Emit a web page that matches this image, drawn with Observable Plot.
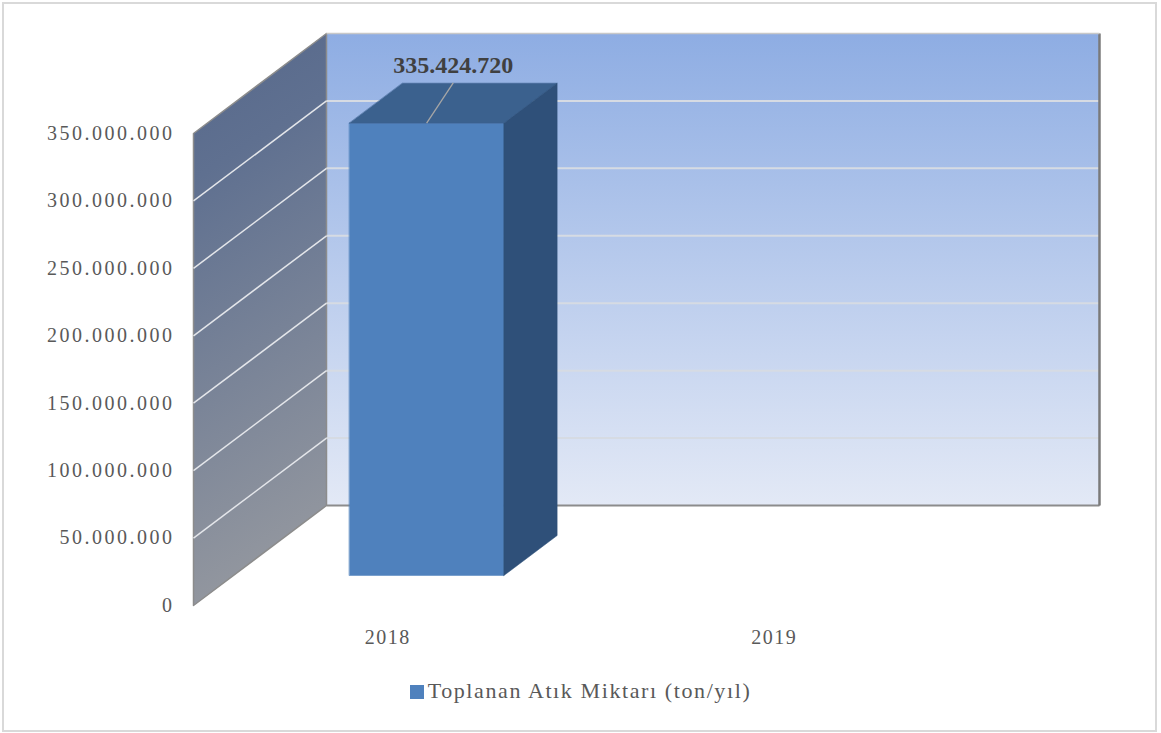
<!DOCTYPE html>
<html>
<head>
<meta charset="utf-8">
<script src="https://cdn.jsdelivr.net/npm/d3@7"></script>
<script src="https://cdn.jsdelivr.net/npm/@observablehq/plot@0.6"></script>
<style>
  html, body { margin: 0; padding: 0; background: #fff; }
  #wrap { position: relative; width: 1161px; height: 733px; overflow: hidden; }
  #frame { position: absolute; left: 2px; top: 2px; width: 1155px; height: 730px; box-sizing: border-box; border: 2px solid #d9d9d9; pointer-events: none; }
  #chart { position: absolute; left: 0; top: 0; }
  #legend { position: absolute; left: 0; top: 678px; width: 1161px; display: flex; justify-content: center; align-items: center;
            font-family: "Liberation Serif", serif; font-size: 22px; letter-spacing: 1.6px; color: #595959; line-height: 26px; }
  #legend .sw { width: 14px; height: 14px; background: #4f81bd; margin-right: 4px; margin-top: 2px; }
  .tick, .tick text { letter-spacing: 2.5px; }
  .xtick, .xtick text { letter-spacing: 1.5px; }
</style>
</head>
<body>
<div id="wrap">
  <div id="chart"></div>
  <div id="legend"><span class="sw"></span><span id="legendText"></span></div>
  <div id="frame"></div>
</div>
<script>
// ---- data ----
const categories = ["2018", "2019"];
const values = [335424720, null];
const seriesName = "Toplanan Atık Miktarı (ton/yıl)";
const yTicks = [0, 50000000, 100000000, 150000000, 200000000, 250000000, 300000000, 350000000];

// ---- formatting ----
const fmt = d3.formatLocale({decimal: ",", thousands: ".", grouping: [3], currency: ["", ""]}).format(",");
const tickLabels = yTicks.map(fmt);

// ---- 3D projection parameters ----
const YMAX = yTicks[yTicks.length - 1];
const N = categories.length;
const KX = 0.3441;          // depth shift along x (category units)
const KY = YMAX * 100 / 472; // depth shift along y (value units)
const P = (c, v, d) => ({x: c + d * KX, y: v + d * KY});
const BAR_HALF = 0.2, D0 = 0.3, D1 = 0.7, LIFT = 15000000;

// walls
const backWall = [P(0, 0, 1), P(N, 0, 1), P(N, YMAX, 1), P(0, YMAX, 1)];
const sideWall = [P(0, 0, 0), P(0, 0, 1), P(0, YMAX, 1), P(0, YMAX, 0)];
const backGrid = yTicks.slice(1, -1).map(t => ({a: P(0, t, 1), b: P(N, t, 1)}));
const sideGrid = yTicks.slice(1, -1).map(t => ({a: P(0, t, 0), b: P(0, t, 1)}));
const backBottom = [{a: P(0, 0, 1), b: P(N, 0, 1)}];
const backRight = [{a: P(N, 0, 1), b: P(N, YMAX, 1)}];
const backTop = [{a: P(0, YMAX, 1), b: P(N, YMAX, 1)}];

// bars
const frontFace = [], topFace = [], sideFace = [], leaders = [], labels = [];
values.forEach((v, i) => {
  if (v == null) return;
  const c0 = i + 0.5 - BAR_HALF, c1 = i + 0.5 + BAR_HALF, id = categories[i];
  [P(c0, 0, D0), P(c1, 0, D0), P(c1, v, D0), P(c0, v, D0)].forEach(p => frontFace.push({...p, id}));
  [P(c0, v, D0), P(c1, v, D0), P(c1, v, D1), P(c0, v, D1)].forEach(p => topFace.push({...p, id}));
  [P(c1, 0, D0), P(c1, 0, D1), P(c1, v, D1), P(c1, v, D0)].forEach(p => sideFace.push({...p, id}));
  leaders.push({a: P(i + 0.5, v, D0), b: P(i + 0.5, v + LIFT, 0.5)});
  labels.push({...P(i + 0.5, v + LIFT, 0.5), text: fmt(v)});
});

const yLabelData = yTicks.map((t, i) => ({...P(0, t, 0), text: tickLabels[i]}));
const xLabelData = categories.map((c, i) => ({...P(i + 0.5, 0, 0), text: c}));

function defs() {
  const ns = "http://www.w3.org/2000/svg";
  const d = document.createElementNS(ns, "defs");
  const mk = (id, stops, x2, y2) => {
    const g = document.createElementNS(ns, "linearGradient");
    g.setAttribute("id", id);
    g.setAttribute("x1", "0"); g.setAttribute("y1", "0");
    g.setAttribute("x2", x2); g.setAttribute("y2", y2);
    stops.forEach(([o, c]) => {
      const s = document.createElementNS(ns, "stop");
      s.setAttribute("offset", o); s.setAttribute("stop-color", c);
      g.appendChild(s);
    });
    d.appendChild(g);
  };
  mk("backGrad", [["0", "#8eade3"], ["1", "#e3e9f6"]], "0", "1");
  mk("sideGrad", [["0", "#56688b"], ["0.25", "#5f7090"], ["1", "#93979f"]], "0.15", "1");
  return d;
}

const seg = (data, opts) => Plot.link(data, {x1: d => d.a.x, y1: d => d.a.y, x2: d => d.b.x, y2: d => d.b.y, ...opts});

const chart = Plot.plot({
  width: 1161,
  height: 665,
  margin: 0,
  x: {type: "linear", domain: [0, N], range: [193, 966], axis: null},
  y: {type: "linear", domain: [0, YMAX], range: [605, 133], axis: null},
  style: {background: "transparent", overflow: "visible"},
  marks: [
    defs,
    Plot.line(backWall, {x: "x", y: "y", curve: "linear-closed", fill: "url(#backGrad)", stroke: "#b5b5b5", strokeWidth: 1}),
    Plot.line(sideWall, {x: "x", y: "y", curve: "linear-closed", fill: "url(#sideGrad)", stroke: "#8c8c8c", strokeWidth: 1.5, strokeLinejoin: "round"}),
    seg(backGrid, {stroke: "#d6dbe3", strokeWidth: 2}),
    seg(sideGrid, {stroke: "#e4e6ea", strokeWidth: 1.5}),
    seg(backBottom, {stroke: "#8c8c8c", strokeWidth: 2}),
    seg(backRight, {stroke: "#7a7a7a", strokeWidth: 2.5}),
    seg(backTop, {stroke: "#c8c8c8", strokeWidth: 1.5}),
    Plot.line(frontFace, {x: "x", y: "y", z: "id", curve: "linear-closed", fill: "#4f81bd", stroke: "#4f81bd", strokeWidth: 0.5}),
    Plot.line(topFace, {x: "x", y: "y", z: "id", curve: "linear-closed", fill: "#3b618e", stroke: "#3b618e", strokeWidth: 0.5}),
    Plot.line(sideFace, {x: "x", y: "y", z: "id", curve: "linear-closed", fill: "#2f5079", stroke: "#2f5079", strokeWidth: 0.5}),
    seg(leaders, {stroke: "#a6a6a6", strokeWidth: 1.3}),
    Plot.text(labels, {x: "x", y: "y", text: "text", lineAnchor: "bottom", dy: -10, fontSize: 24, fontWeight: "bold",
                       fontFamily: "Liberation Serif", fill: "#404040"}),
    Plot.text(yLabelData, {x: "x", y: "y", text: "text", textAnchor: "end", dx: -19, fontSize: 20,
                           fontFamily: "Liberation Serif", fill: "#595959", className: "tick"}),
    Plot.text(xLabelData, {x: "x", y: "y", text: "text", dy: 32, dx: 1, fontSize: 20,
                           fontFamily: "Liberation Serif", fill: "#595959", className: "xtick"})
  ]
});
document.getElementById("chart").appendChild(chart);
document.getElementById("legendText").textContent = seriesName;
</script>
</body>
</html>
